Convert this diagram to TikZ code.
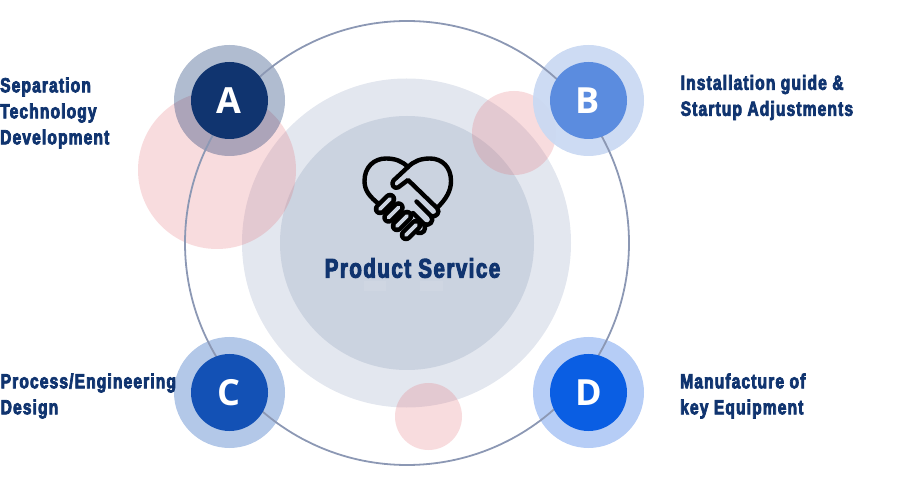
\documentclass[tikz,border=0pt]{standalone}
\usepackage{fontspec}
\setmainfont{Open Sans}
\newfontfamily\labelfont[FakeStretch=0.76,FakeBold=3.6,LetterSpace=5.5]{Liberation Sans Bold}
\newfontfamily\letterfont{Open Sans Bold}
\definecolor{navy}{HTML}{10346F}
\definecolor{bluea}{HTML}{10346F}
\definecolor{blueb}{HTML}{5B8CDF}
\definecolor{bluec}{HTML}{1351B5}
\definecolor{blued}{HTML}{0A5EE3}
\definecolor{ringa}{HTML}{10346F}
\definecolor{ringb}{HTML}{CAD9F2}
\definecolor{ringc}{HTML}{B3C8E8}
\definecolor{ringd}{HTML}{B6CDF6}
\definecolor{softout}{HTML}{E3E7EF}
\definecolor{softin}{HTML}{CBD3E0}
\definecolor{pinkish}{HTML}{E36B73}
\definecolor{orbit}{HTML}{8C98B4}
\tikzset{
  disc/.style={circle,inner sep=0pt,outer sep=0pt,draw=none},
  pinkdisc/.style={disc,fill=pinkish,fill opacity=0.24},
  badge/.style={disc,minimum size=77pt,text=white,font=\letterfont\fontsize{36}{36}\selectfont},
  halo/.style={disc,minimum size=111pt},
  caption/.style={anchor=west,inner sep=0pt,align=left,text=navy,font=\labelfont\fontsize{20.5}{26}\selectfont},
  icon/.style={draw=black,line width=4.4pt,line cap=round,line join=round},
  fingerout/.style={draw=black,line width=12.5pt,line cap=round},
  fingerin/.style={draw=softin,line width=3.8pt,line cap=round}
}
\begin{document}
\begin{tikzpicture}[x=1pt,y=-1pt]
\useasboundingbox (0,0) rectangle (900,486);
\node[disc,fill=softout,minimum size=329pt] (outer) at (406.5,243) {};
\node[disc,fill=softin,minimum size=254pt] (inner) at (407,243) {};
\fill[softout!15!softin] (364,281) rectangle (386,291);
\fill[softout!15!softin] (420,281) rectangle (443,291);
\node[pinkdisc,minimum size=158pt] (pa) at (217,170) {};
\node[pinkdisc,minimum size=84pt] (pb) at (514,133) {};
\node[pinkdisc,minimum size=67pt] (pc) at (428.5,416.5) {};
\node[halo,fill=ringa,fill opacity=0.33] (ha) at (229.5,100.5) {};
\node[halo,fill=ringb,fill opacity=0.95] (hb) at (588.5,100.5) {};
\node[halo,fill=ringc] (hc) at (229.5,392.5) {};
\node[halo,fill=ringd] (hd) at (588.5,392.5) {};
\node[disc,draw=orbit,line width=1.8pt,minimum size=444pt] (orbitring) at (407,243) {};
\node[badge,fill=bluea] (a) at (229.5,100.5) {\hspace{-1pt}A};
\node[badge,fill=blueb] (b) at (588.5,100.5) {\hspace{-1pt}B};
\node[badge,fill=bluec] (c) at (229.5,392.5) {\hspace{-1pt}C};
\node[badge,fill=blued] (d) at (588.5,392.5) {D};
% handshake heart icon
\draw[icon] (380,205) .. controls (370,197) and (364.5,191) .. (364.5,181)
  .. controls (364.5,167) and (374,158.5) .. (386,158.5)
  .. controls (395,158.5) and (402,161) .. (408,167)
  .. controls (414,161) and (421,158.5) .. (430,158.5)
  .. controls (442,158.5) and (451,167) .. (451,181)
  .. controls (451,191) and (446,199) .. (438,207);
\draw[icon] (408,167) -- (393.5,180.5) .. controls (390.5,184) and (394,189.5) .. (398,187.5) -- (408,180) -- (437,208)
  .. controls (441,212) and (436,218) .. (431,216) -- (416.5,201.5);
\draw[icon] (431,216) .. controls (435,221) and (429,227) .. (424,224) -- (413,213);
\draw[icon] (424,224) .. controls (427,230) and (423,234) .. (418,233);
\draw[fingerout] (380,209) -- (390,199);
\draw[fingerout] (388.5,217.5) -- (398.5,207.5);
\draw[fingerout] (397,226) -- (407,216);
\draw[fingerout] (406,235) -- (416,225);
\draw[fingerin] (380,209) -- (390,199);
\draw[fingerin] (388.5,217.5) -- (398.5,207.5);
\draw[fingerin] (397,226) -- (407,216);
\draw[fingerin] (406,235) -- (416,225);
% captions
\node[caption] (t1) at (0,113) {Separation\\Technology\\Development};
\node[caption] (t2) at (680.5,97.5) {Installation guide \&\\Startup Adjustments};
\node[caption] (t3) at (0.5,396) {Process/Engineering\\Design};
\node[caption] (t4) at (680,396) {Manufacture of\\key Equipment};
\node[text=navy,inner sep=0pt,font=\labelfont\fontsize{27}{27}\selectfont] (title) at (412.5,268) {Product Service};
\end{tikzpicture}
\end{document}
